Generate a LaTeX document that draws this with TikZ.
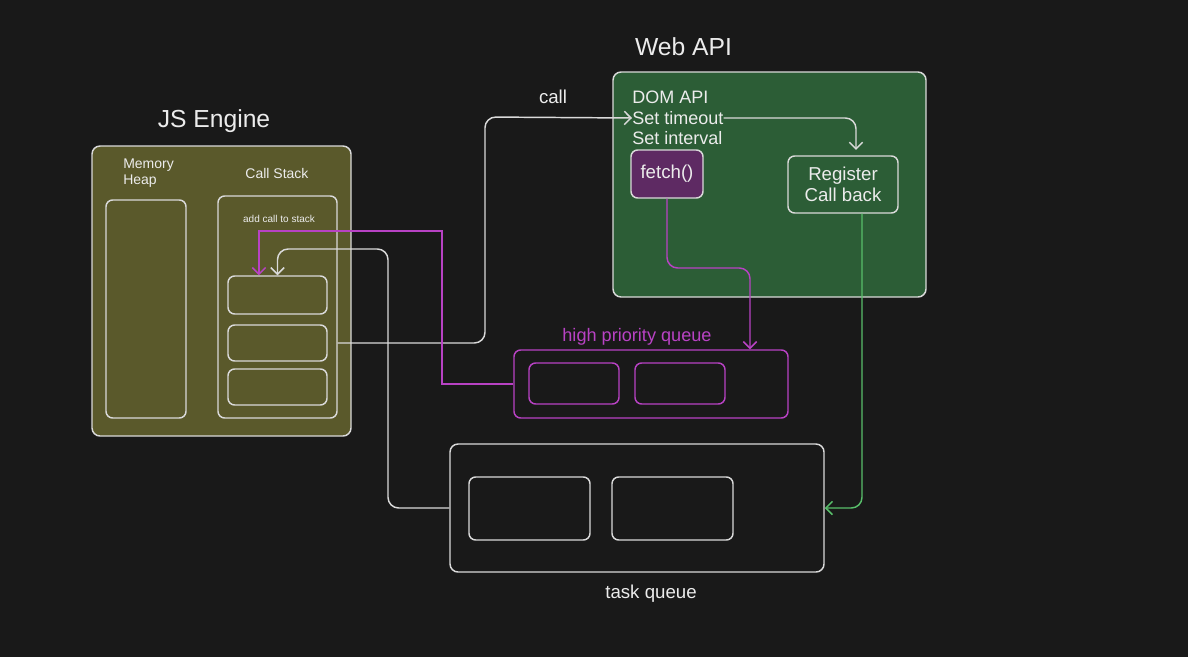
\documentclass[tikz,border=0pt]{standalone}
\usepackage{fontspec}
\setmainfont{Liberation Sans}
\usetikzlibrary{arrows.meta, positioning}

\definecolor{canvas}{RGB}{25,25,25}
\definecolor{olive}{RGB}{90,89,43}
\definecolor{leaf}{RGB}{44,93,54}
\definecolor{grape}{RGB}{94,42,99}
\definecolor{edge}{RGB}{218,218,218}
\definecolor{ink}{RGB}{236,236,236}
\definecolor{hotpink}{RGB}{184,66,196}
\definecolor{mint}{RGB}{88,190,106}

\begin{document}
\begin{tikzpicture}[
    x=0.75pt, y=-0.75pt,
    every node/.style={text=ink, inner sep=0pt, font=\fontsize{14}{15.75}\selectfont},
    panel/.style={draw=edge, line width=1.1pt, rounded corners=6pt},
    slot/.style={panel, rounded corners=5pt},
    heading/.style={font=\fontsize{18.5}{22}\selectfont},
    small/.style={font=\fontsize{10.5}{11.5}\selectfont},
    tiny/.style={font=\fontsize{7.5}{9}\selectfont},
    apitext/.style={anchor=west, font=\fontsize{13.5}{16}\selectfont},
    flow/.style={draw=edge, line width=1.1pt, rounded corners=8pt, -{Straight Barb[length=5pt,width=10pt]}},
    magline/.style={flow, draw=hotpink},
    greenline/.style={flow, draw=mint}
]
\fill[canvas] (0,0) rectangle (1188,657);

% JS engine
\node[heading] (jstitle) at (214,121) {JS Engine};
\node (engine) [panel, fill=olive, minimum width=194.25pt, minimum height=217.5pt] at (221.5,291) {};
\node (heaptext) [small, align=left, anchor=west] at (123,173) {Memory\\Heap};
\node (heap) [slot, minimum width=60pt, minimum height=163.5pt] at (146,309) {};
\node (stacktext) [small] at (277,173) {Call Stack};
\node (stack) [slot, minimum width=89.25pt, minimum height=166.5pt] at (277.5,307) {};
\node (addtext) [tiny] at (279,219) {add call to stack};
\node (item1) [slot, minimum width=74.25pt, minimum height=28.5pt] at (277.5,295) {};
\node (item2) [slot, minimum width=74.25pt, minimum height=27pt] at (277.5,343) {};
\node (item3) [slot, minimum width=74.25pt, minimum height=27pt] at (277.5,387) {};

% Web API
\node[heading] (webtitle) at (683.5,47) {Web API};
\node (webapi) [panel, fill=leaf, minimum width=234.75pt, minimum height=168.75pt] at (769.5,184.5) {};
\node (dom) [apitext] at (632,97) {DOM API};
\node (timeout) [apitext] at (632,118) {Set timeout};
\node (interval) [apitext] at (632,138) {Set interval};
\node (fetch) [slot, fill=grape, minimum width=54pt, minimum height=36pt] at (667,174) {fetch()};
\node (reg) [slot, align=center, minimum width=82.5pt, minimum height=42.75pt] at (843,184.5) {Register\\Call back};
\node (calltext) at (553,97) {call};

% queues
\node (hpqtext) [text=hotpink, font=\fontsize{13.6}{16}\selectfont] at (637,337) {high priority queue};
\node (hpq) [slot, draw=hotpink, minimum width=205.5pt, minimum height=51pt] at (651,384) {};
\node (hpq1) [slot, draw=hotpink, minimum width=67.5pt, minimum height=30.75pt] at (574,383.5) {};
\node (hpq2) [slot, draw=hotpink, minimum width=67.5pt, minimum height=30.75pt] at (680,383.5) {};
\node (tq) [panel, minimum width=280.5pt, minimum height=96pt] at (637,508) {};
\node (tq1) [slot, minimum width=90.75pt, minimum height=47.25pt] at (529.5,508.5) {};
\node (tq2) [slot, minimum width=90.75pt, minimum height=47.25pt] at (672.5,508.5) {};
\node (tqtext) at (651,594) {task queue};

\coordinate (callbend) at (485,117);
\coordinate (fetchbend) at (750,268);
\coordinate (magbend) at (442,231);
\coordinate (taskbend) at (388,249);

\draw [flow] (stack.east |- item2) -| (callbend) -- (timeout.west);
\draw [flow] (timeout.east) -| ([xshift=9.75pt, yshift=4pt]reg.north);
\draw [magline] (fetch.south) |- (fetchbend) -- (hpq.north -| fetchbend);
\draw [magline, sharp corners] (hpq.west) -| (magbend) -| ([xshift=-13.9pt]item1.north);
\draw [flow] (tq.west) -| (taskbend) -| (item1.north);
\draw [greenline] ([xshift=14.25pt]reg.south) |- (tq.east);

\end{tikzpicture}
\end{document}
